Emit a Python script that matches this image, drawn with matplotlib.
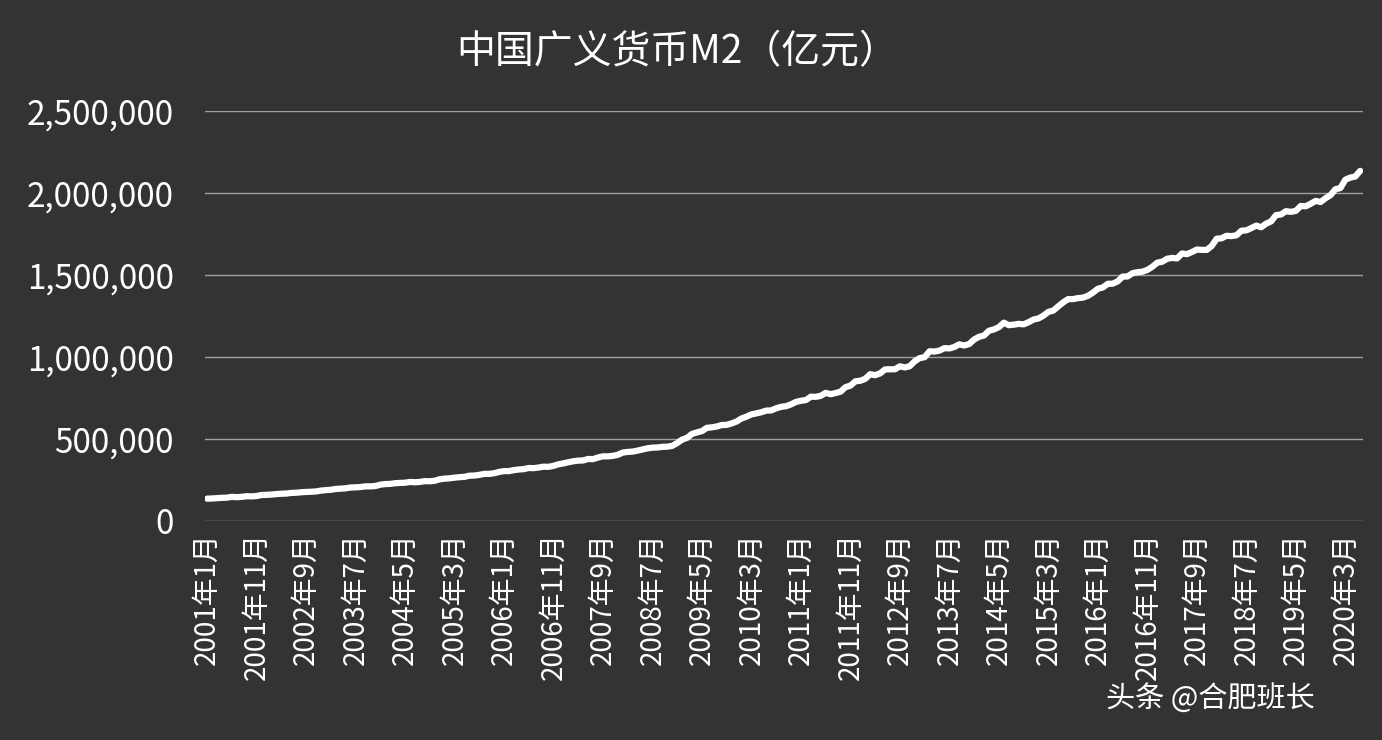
import matplotlib
matplotlib.use("Agg")
import matplotlib.pyplot as plt
from matplotlib.ticker import FuncFormatter

plt.rcParams['font.family'] = ['Noto Sans CJK SC', 'DejaVu Sans']

m2 = {
2001: [136000,137000,139000,141000,142000,147000,145000,147000,151000,150000,152000,158302],
2002: [159000,161000,164000,166000,167000,171000,172000,175000,177000,178000,180000,185007],
2003: [188000,190000,195000,197000,199000,204000,205000,207000,211000,211000,213000,221223],
2004: [225000,226000,230000,232000,233000,238000,236000,238000,243000,242000,245000,254107],
2005: [258000,260000,264000,267000,269000,276000,277000,281000,287000,287000,291000,298756],
2006: [304000,304000,310000,314000,316000,323000,322000,326000,331000,330000,336000,345578],
2007: [351000,358000,364000,368000,369000,378000,377000,387000,394000,394000,397000,403442],
2008: [417000,421000,423000,429000,436000,443000,447000,448000,452000,453000,458000,475167],
2009: [496000,507000,531000,540000,548000,568000,571000,576000,585000,586000,595000,606225],
2010: [625000,636000,650000,656000,663000,673000,674000,687000,696000,700000,711000,725852],
2011: [733000,737000,758000,757000,763000,781000,773000,780000,788000,816000,825000,851591],
2012: [855000,867000,895000,889000,900000,924000,925000,925000,943000,936000,944000,974159],
2013: [993000,999000,1035000,1033000,1039000,1054000,1052000,1061000,1077000,1070000,1079000,1106525],
2014: [1123000,1131000,1160000,1168000,1182000,1209000,1194000,1197000,1202000,1199000,1212000,1228375],
2015: [1235000,1252000,1275000,1283000,1309000,1333000,1353000,1353000,1359000,1362000,1373000,1392278],
2016: [1416000,1424000,1446000,1447000,1461000,1490000,1491000,1511000,1517000,1520000,1531000,1550067],
2017: [1575000,1581000,1599000,1604000,1601000,1631000,1627000,1640000,1655000,1653000,1653000,1676769],
2018: [1721000,1724000,1739000,1737000,1742000,1770000,1772000,1786000,1801000,1791000,1813000,1826744],
2019: [1865000,1869000,1889000,1885000,1891000,1921000,1919000,1934000,1952000,1945000,1968000,1986488],
2020: [2023000,2030000,2080900,2094000,2100200,2134900],
}

labels, values = [], []
for y in sorted(m2):
    for i, v in enumerate(m2[y]):
        labels.append(f"{y}年{i+1}月")
        values.append(v)

bg = '#333333'
fig = plt.figure(figsize=(13.82, 7.4), dpi=100, facecolor=bg)
ax = fig.add_axes([0.148, 0.296, 0.838, 0.554], facecolor=bg)
x = list(range(len(values)))
ax.plot(x, values, color='white', lw=4.5, solid_capstyle='round')
ax.set_ylim(0, 2500000)
ax.set_xlim(-0.5, 233.5)
ax.set_yticks(range(0, 2500001, 500000))
ax.yaxis.set_major_formatter(FuncFormatter(lambda v, p: f"{int(v):,}"))
ax.grid(axis='y', color='#a0a0a0', lw=1)
ax.set_axisbelow(True)
ticks = x[::10]
ax.set_xticks(ticks)
ax.set_xticklabels([labels[i] for i in ticks], rotation=90, fontsize=20, color='white')
ax.tick_params(axis='y', colors='white', labelsize=24, length=0, pad=22)
ax.tick_params(axis='x', colors='white', length=0, pad=8)
for s in ax.spines.values():
    s.set_visible(False)
fig.text(0.49, 0.93, "中国广义货币M2（亿元）", ha='center', va='center', color='white', fontsize=28)
fig.text(0.80, 0.055, "头条 @合肥班长", color='white', fontsize=21, ha='left', va='center')
fig.savefig("out.png", dpi=100, facecolor=bg)
